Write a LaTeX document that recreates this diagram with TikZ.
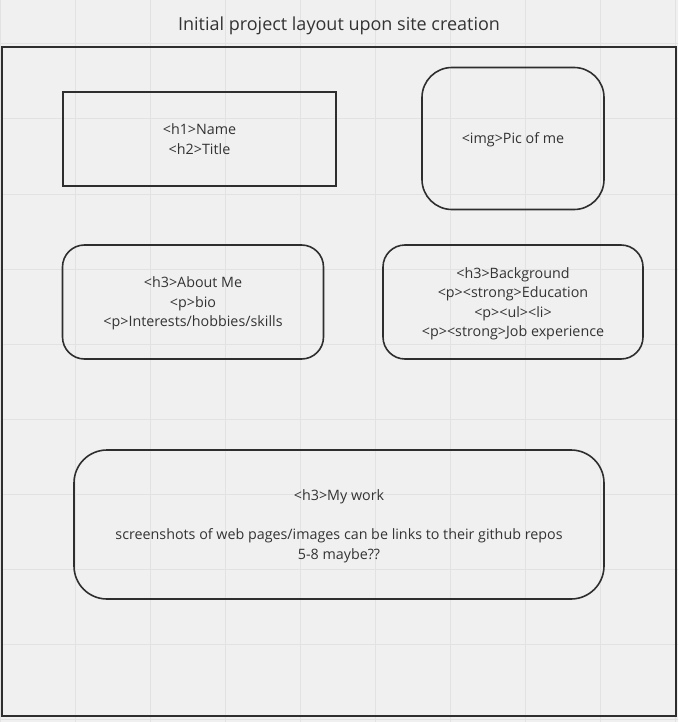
\documentclass[tikz,border=0pt]{standalone}
\usepackage{fontspec}
\setmainfont{Open Sans}

\definecolor{paper}{HTML}{F0F0F0}
\definecolor{gridgray}{HTML}{E2E2E2}
\definecolor{ink}{HTML}{2E2E2E}
\definecolor{textgray}{HTML}{333333}

\begin{document}
\begin{tikzpicture}[x=1pt, y=-1pt,
    box/.style={draw=ink, line width=1.6pt, inner sep=0, align=center,
    text depth=0pt, text=textgray, font=\fontsize{14.3}{19.5}\selectfont},
    gridline/.style={draw=gridgray, line width=1pt}]

    % Page
    \fill[paper] (0, 0) rectangle (678, 722);
    \useasboundingbox (0, 0) rectangle (678, 722);
    \foreach \i in {0, ..., 9} {
        \draw[gridline] ({0.7 + 75*\i}, 0) -- ({0.7 + 75*\i}, 722);
        \draw[gridline] (0, {44 + 75*\i}) -- (678, {44 + 75*\i});
    }

    % Title and frame
    \node[anchor=base, inner sep=0, text=textgray,
    font=\fontsize{18}{22}\selectfont] (title) at (339, 30.7)
    {Initial project layout upon site creation};
    \draw[ink, line width=2pt] (2, 47) rectangle (676, 716);

    % Boxes
    \node[box, minimum width=273, minimum height=94] (name) at (199.5, 139)
    {<h1>Name\\<h2>Title};
    \node[box, rounded corners=30, minimum width=182, minimum height=142]
    (pic) at (513, 138.5) {<img>Pic of me};
    \node[box, rounded corners=22, minimum width=261, minimum height=114]
    (about) at (193, 302)
    {<h3>About Me\\<p>bio\\<p>Interests/hobbies/skills};
    \node[box, rounded corners=22, minimum width=260, minimum height=114]
    (background) at (513, 302)
    {<h3>Background\\<p><strong>Education\\<p><ul><li>\\<p><strong>Job experience};
    \node[box, rounded corners=33, minimum width=530, minimum height=149]
    (work) at (339, 524.5)
    {<h3>My work\\[19.5pt]screenshots of web pages/images can be links to their github repos\\5-8 maybe??};

\end{tikzpicture}
\end{document}
